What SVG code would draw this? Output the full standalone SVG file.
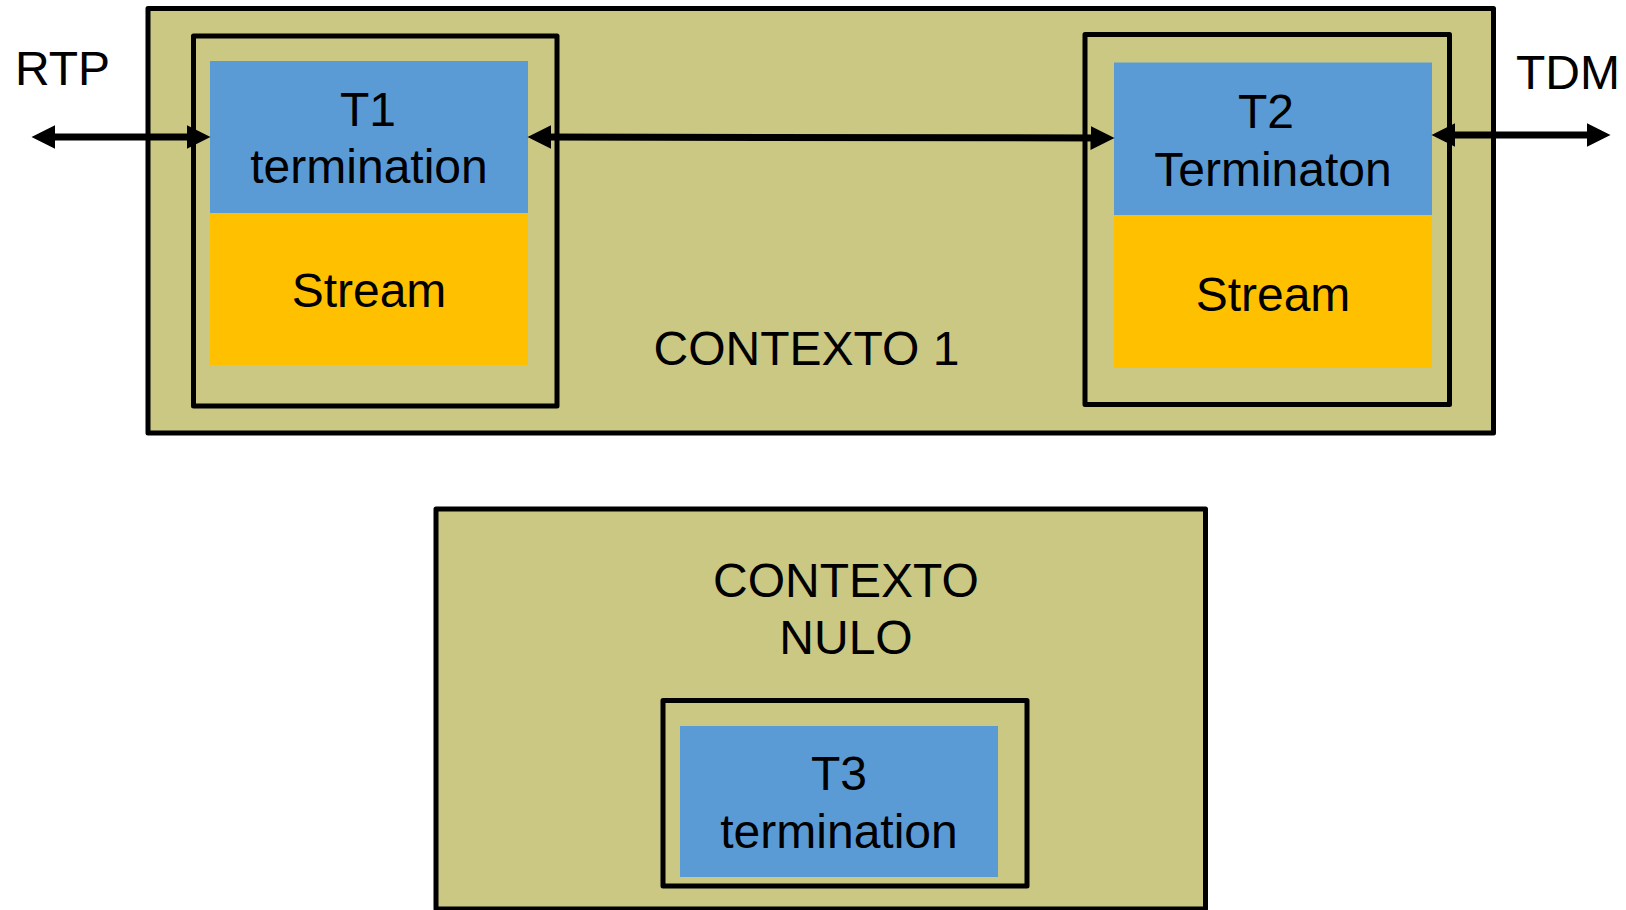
<svg xmlns="http://www.w3.org/2000/svg" width="1626" height="910" viewBox="0 0 1626 910">
  <style>
    .ctx { fill: #CBC884; stroke: #000; stroke-width: 5; stroke-linejoin: round; }
    .frame { fill: #CBC884; stroke: #000; stroke-width: 5; stroke-linejoin: round; }
    .term { fill: #5B9BD5; }
    .stream { fill: #FFC000; }
    .lbl { font-family: "Liberation Sans", Arial, sans-serif; font-size: 48px; fill: #000; text-anchor: middle; }
    .side { font-family: "Liberation Sans", Arial, sans-serif; font-size: 48px; fill: #000; }
    .conn { fill: none; stroke: #000; stroke-width: 7; }
  </style>
  <defs>
    <marker id="head" markerUnits="userSpaceOnUse" markerWidth="24" markerHeight="24" viewBox="0 0 23 23" refX="11" refY="11.5" orient="auto-start-reverse">
      <path d="M0,0 L23,11.5 L0,23 z" fill="#000"/>
    </marker>
  </defs>

  <rect width="1626" height="910" fill="#fff"/>

  <!-- Context 1 -->
  <g id="contexto1">
    <rect class="ctx" x="148" y="8.5" width="1345.5" height="424.5"/>
    <text class="side" x="806.5" y="365" text-anchor="middle">CONTEXTO 1</text>
  </g>

  <!-- T1 termination with its stream -->
  <g id="t1">
    <rect class="frame" x="193.5" y="36" width="363.5" height="370"/>
    <rect class="term" x="210" y="61" width="318" height="152"/>
    <rect class="stream" x="210" y="213" width="318" height="152"/>
    <text class="lbl" x="368" y="126">T1</text>
    <text class="lbl" x="369" y="183">termination</text>
    <text class="lbl" x="369" y="307">Stream</text>
  </g>

  <!-- T2 termination with its stream -->
  <g id="t2">
    <rect class="frame" x="1085" y="34.5" width="364.5" height="370"/>
    <rect class="term" x="1114" y="62.5" width="318" height="152.5"/>
    <rect class="stream" x="1114" y="215" width="318" height="153"/>
    <text class="lbl" x="1266" y="128">T2</text>
    <text class="lbl" x="1273" y="186">Terminaton</text>
    <text class="lbl" x="1273" y="311">Stream</text>
  </g>

  <!-- Null context -->
  <g id="contexto-nulo">
    <rect class="ctx" x="436" y="509" width="769.5" height="400"/>
    <text class="side" x="846" y="597" text-anchor="middle">CONTEXTO</text>
    <text class="side" x="846" y="654" text-anchor="middle">NULO</text>
  </g>

  <!-- T3 termination -->
  <g id="t3">
    <rect class="frame" x="663" y="700.5" width="364" height="185.5"/>
    <rect class="term" x="680" y="726" width="318" height="151"/>
    <text class="lbl" x="839" y="790">T3</text>
    <text class="lbl" x="839" y="848">termination</text>
  </g>

  <!-- Side labels -->
  <g id="rtp">
    <text class="side" x="15" y="85">RTP</text>
  </g>
  <g id="tdm">
    <text class="side" x="1516" y="89">TDM</text>
  </g>

  <!-- Connectors -->
  <g id="connectors">
    <path class="conn" d="M44,137 L198,137" marker-start="url(#head)" marker-end="url(#head)"/>
    <path class="conn" d="M540,137 L1102,138" marker-start="url(#head)" marker-end="url(#head)"/>
    <path class="conn" d="M1444,135 L1598,135" marker-start="url(#head)" marker-end="url(#head)"/>
  </g>
</svg>
